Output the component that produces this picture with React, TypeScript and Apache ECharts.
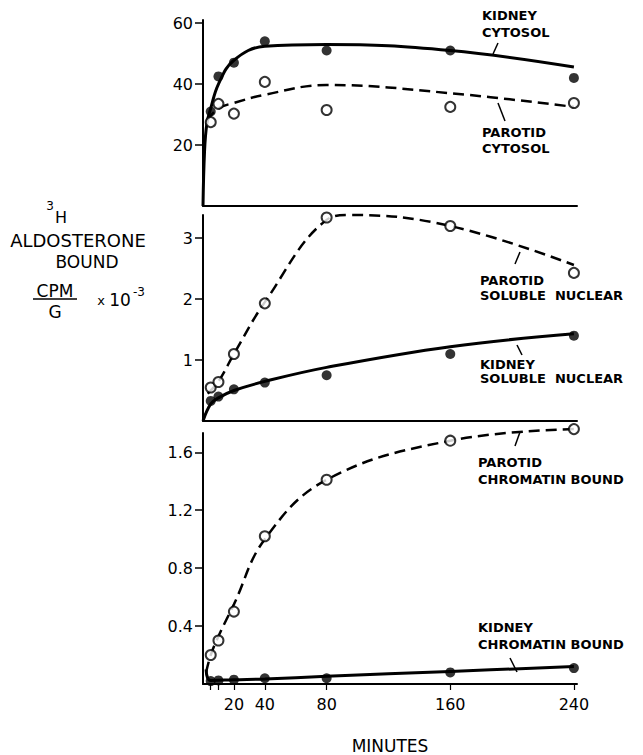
import React, { useEffect, useRef } from "react";
import * as echarts from "echarts";

// Sampling times (minutes)
const minutes = [5, 10, 20, 40, 80, 160, 240];

// Panel 1: cytosol (CPM/G x 10^-3)
const kidneyCytosol = [31, 42.5, 47, 54, 51, 51, 42];
const parotidCytosol = [27.5, 33.5, 30.3, 40.7, 31.5, 32.5, 33.8];
// Panel 2: soluble nuclear
const kidneySolNuc = [0.33, 0.4, 0.52, 0.63, 0.75, 1.1, 1.4];
const parotidSolNuc = [0.55, 0.64, 1.1, 1.93, 3.34, 3.2, 2.43];
// Panel 3: chromatin bound
const kidneyChrom = [0.02, 0.025, 0.03, 0.04, 0.04, 0.08, 0.11];
const parotidChrom = [0.2, 0.3, 0.5, 1.02, 1.41, 1.68, 1.76];

// Hand-drawn fitted curves
const kidneyCytosolFitX = [0, 1, 2.5, 5, 10, 20, 40, 80, 160, 240];
const kidneyCytosolFitY = [0, 18, 27, 32, 40, 47.8, 52.4, 53, 51, 45.6];
const parotidCytosolFitX = [2.5, 10, 20, 40, 80, 160, 240];
const parotidCytosolFitY = [28, 32, 33.8, 36.5, 39.7, 37, 32.5];
const kidneySolNucFitX = [0, 5, 10, 20, 40, 80, 160, 240];
const kidneySolNucFitY = [0, 0.28, 0.38, 0.5, 0.65, 0.88, 1.22, 1.43];
const parotidSolNucFitX = [3, 10, 20, 40, 80, 95, 160, 240];
const parotidSolNucFitY = [0.45, 0.65, 1.1, 1.95, 3.3, 3.38, 3.2, 2.56];
const kidneyChromFitX = [2, 3, 5, 20, 40, 80, 160, 240];
const kidneyChromFitY = [0.1, 0.04, 0.025, 0.03, 0.035, 0.053, 0.087, 0.12];
const parotidChromFitX = [2, 5, 10, 20, 40, 80, 160, 240];
const parotidChromFitY = [0.08, 0.2, 0.33, 0.55, 1.0, 1.41, 1.68, 1.76];

// Axis ticks
const xTicks = [5, 10, 20, 40, 80, 160, 240];
const xLabels = [20, 40, 80, 160, 240];
const yTicks1 = [20, 40, 60];
const yTicks2 = [1, 2, 3];
const yTicks3 = [0.4, 0.8, 1.2, 1.6];

const FONT = "DejaVu Sans";

const zip = (xs: number[], ys: number[]) => xs.map((x, i) => [x, ys[i]]);

export default function App() {
  const ref = useRef<HTMLDivElement>(null);
  useEffect(() => {
    document.body.style.margin = "0";
    const chart = echarts.init(ref.current!, null, { renderer: "svg" });
    const axisLine = { show: true, lineStyle: { color: "#000", width: 2 } };
    const yAxisBase = (gi: number, max: number, ticks: number[], fmt?: (v: number) => string) => ({
      type: "value",
      gridIndex: gi,
      min: 0,
      max,
      axisLine,
      splitLine: { show: false },
      axisTick: { show: true, length: 8, customValues: ticks, lineStyle: { color: "#000", width: 1.5 } },
      axisLabel: {
        customValues: ticks,
        margin: 10,
        color: "#000",
        fontFamily: FONT,
        fontSize: 16,
        formatter: fmt,
      },
    });
    const xAxisBase = (gi: number) => ({
      type: "value",
      gridIndex: gi,
      min: 0,
      max: 242,
      axisLine,
      splitLine: { show: false },
      axisTick: { show: false },
      axisLabel: { show: false },
    });
    const open = { color: "#fff", borderColor: "#000", borderWidth: 2 };
    const filled = { color: "#000" };
    const scatter = (gi: number, ys: number[], style: any) => ({
      type: "scatter",
      xAxisIndex: gi,
      yAxisIndex: gi,
      data: zip(minutes, ys),
      symbol: "circle",
      symbolSize: 10,
      itemStyle: style,
      clip: false,
      z: 4,
    });
    const fit = (gi: number, xs: number[], ys: number[], dashed: boolean) => ({
      type: "line",
      xAxisIndex: gi,
      yAxisIndex: gi,
      data: zip(xs, ys),
      showSymbol: false,
      symbol: "none",
      smooth: 0.4,
      clip: false,
      lineStyle: dashed
        ? { color: "#000", width: 2.5, type: [11, 6] }
        : { color: "#000", width: 3 },
      z: 2,
    });
    const txt = (x: number, y: number, text: string, size = 13, align = "left", weight = "bold") => ({
      type: "text",
      x,
      y,
      style: {
        text,
        fill: "#000",
        font: `${weight} ${size}px "${FONT}"`,
        textAlign: align,
        textVerticalAlign: "middle",
      },
    });
    const seg = (x1: number, y1: number, x2: number, y2: number) => ({
      type: "line",
      shape: { x1, y1, x2, y2 },
      style: { stroke: "#000", lineWidth: 1.5 },
    });
    chart.setOption({
      animation: false,
      backgroundColor: "#fff",
      grid: [
        { left: 203, top: 20, width: 374, height: 186 },
        { left: 203, top: 215, width: 374, height: 206 },
        { left: 203, top: 433, width: 374, height: 260 },
      ],
      xAxis: [
        xAxisBase(0),
        xAxisBase(1),
        {
          ...xAxisBase(2),
          axisTick: { show: true, length: 6, customValues: xTicks, lineStyle: { color: "#000", width: 1.2 } },
          axisLabel: {
            show: true,
            customValues: xLabels,
            margin: 12,
            color: "#000",
            fontFamily: FONT,
            fontSize: 16,
          },
          name: "MINUTES",
          nameLocation: "middle",
          nameGap: 53,
          nameTextStyle: { color: "#000", fontFamily: FONT, fontSize: 17 },
        },
      ],
      yAxis: [
        yAxisBase(0, 61, yTicks1),
        yAxisBase(1, 3.38, yTicks2),
        yAxisBase(2, 1.733, yTicks3, (v: number) => v.toFixed(1)),
      ],
      series: [
        fit(0, kidneyCytosolFitX, kidneyCytosolFitY, false),
        fit(0, parotidCytosolFitX, parotidCytosolFitY, true),
        scatter(0, kidneyCytosol, filled),
        scatter(0, parotidCytosol, open),
        fit(1, kidneySolNucFitX, kidneySolNucFitY, false),
        fit(1, parotidSolNucFitX, parotidSolNucFitY, true),
        scatter(1, kidneySolNuc, filled),
        scatter(1, parotidSolNuc, open),
        fit(2, kidneyChromFitX, kidneyChromFitY, false),
        fit(2, parotidChromFitX, parotidChromFitY, true),
        scatter(2, kidneyChrom, filled),
        scatter(2, parotidChrom, open),
      ],
      graphic: [
        txt(482, 15, "KIDNEY"),
        txt(482, 32, "CYTOSOL"),
        seg(498, 43, 493, 54),
        txt(482, 132, "PAROTID"),
        txt(482, 148, "CYTOSOL"),
        seg(498, 103, 505, 121),
        txt(480, 280, "PAROTID"),
        txt(480, 295, "SOLUBLE  NUCLEAR"),
        seg(520, 252, 515, 264),
        txt(480, 364, "KIDNEY"),
        txt(480, 378, "SOLUBLE  NUCLEAR"),
        seg(517, 345, 522, 355),
        txt(478, 462, "PAROTID"),
        txt(478, 479, "CHROMATIN BOUND"),
        seg(520, 432, 515, 446),
        txt(478, 627, "KIDNEY"),
        txt(478, 644, "CHROMATIN BOUND"),
        seg(510, 658, 517, 672),
        // y-axis title
        txt(50, 206, "3", 12, "center", "normal"),
        txt(61, 217, "H", 16, "center", "normal"),
        txt(78, 240, "ALDOSTERONE", 18, "center", "normal"),
        txt(87, 262, "BOUND", 17, "center", "normal"),
        txt(55, 291, "CPM", 17, "center", "normal"),
        seg(33, 299, 77, 299),
        txt(55, 312, "G", 17, "center", "normal"),
        txt(101, 300, "x", 13, "center", "normal"),
        txt(120, 300, "10", 17, "center", "normal"),
        txt(139, 292, "-3", 12, "center", "normal"),
      ],
    });
    return () => chart.dispose();
  }, []);
  return <div ref={ref} style={{ width: 643, height: 755 }} />;
}
